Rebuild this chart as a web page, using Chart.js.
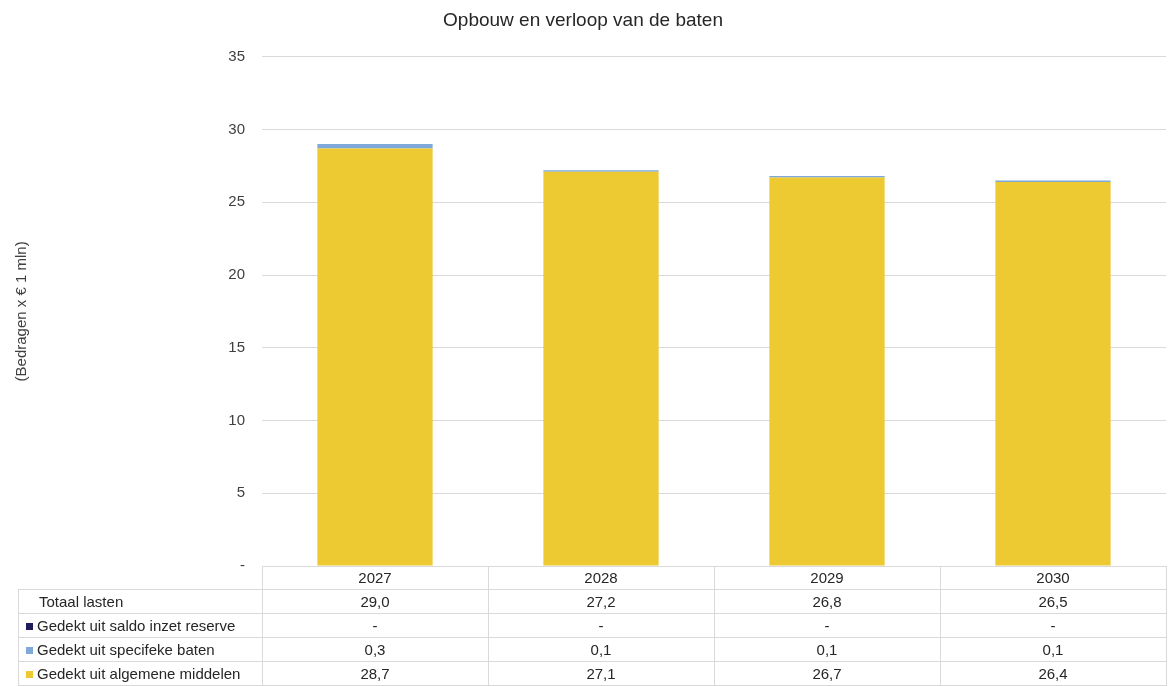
<!DOCTYPE html>
<html>
<head>
<meta charset="utf-8">
<script src="https://cdn.jsdelivr.net/npm/chart.js@4/dist/chart.umd.min.js"></script>
<style>
  body { margin: 0; background: #fff; }
  #wrap { width: 1176px; height: 686px; }
</style>
</head>
<body>
<div id="wrap"><canvas id="baten" width="1176" height="686"></canvas></div>
<script>
const years = ["2027", "2028", "2029", "2030"];
const algemeneMiddelen = [28.7, 27.1, 26.7, 26.4];
const specifiekeBaten = [0.3, 0.1, 0.1, 0.1];
const inzetReserve = [0, 0, 0, 0];
const totaalLasten = [29.0, 27.2, 26.8, 26.5];

const FONT = "'Liberation Sans', Arial, sans-serif";

// "-" for zero, comma as decimal separator
const fmt = v => v === 0 ? "-" : v.toFixed(1).replace(".", ",");

// rows of the data table under the bars (top to bottom)
const tableRows = [
  { label: "Totaal lasten", values: totaalLasten, color: null },
  { label: "Gedekt uit saldo inzet reserve", values: inzetReserve, color: "#1f1c5e" },
  { label: "Gedekt uit specifeke baten", values: specifiekeBaten, color: "#7fa9d8" },
  { label: "Gedekt uit algemene middelen", values: algemeneMiddelen, color: "#edc932" }
];

const dataTable = {
  id: "dataTable",
  afterDraw(chart) {
    const ctx = chart.ctx;
    const x = chart.scales.x;
    const area = chart.chartArea;
    const top = area.bottom;
    const rowH = (chart.height - top) / 5;
    const tableLeft = 18;

    ctx.save();
    ctx.strokeStyle = "#d9d9d9";
    ctx.lineWidth = 1;

    // horizontal rules
    ctx.beginPath();
    ctx.moveTo(area.left, top + 0.5);
    ctx.lineTo(area.right, top + 0.5);
    for (let r = 1; r <= 5; r++) {
      const y = Math.round(top + r * rowH) - 0.5;
      ctx.moveTo(tableLeft, y);
      ctx.lineTo(area.right, y);
    }
    // vertical rules: label column and year columns
    ctx.moveTo(tableLeft + 0.5, top + rowH);
    ctx.lineTo(tableLeft + 0.5, chart.height);
    const colW = (area.right - area.left) / years.length;
    for (let i = 0; i <= years.length; i++) {
      const cx = Math.round(area.left + i * colW) + 0.5;
      ctx.moveTo(cx, top);
      ctx.lineTo(cx, chart.height);
    }
    ctx.stroke();

    ctx.font = "15px " + FONT;
    ctx.fillStyle = "#262626";
    ctx.textBaseline = "middle";

    // year header
    ctx.textAlign = "center";
    years.forEach((yr, i) => {
      ctx.fillText(yr, x.getPixelForValue(i), top + rowH / 2 + 1);
    });

    tableRows.forEach((row, r) => {
      const cy = top + (r + 1.5) * rowH + 1;
      ctx.textAlign = "left";
      if (row.color) {
        ctx.fillStyle = row.color;
        ctx.fillRect(26, cy - 4, 7, 7);
        ctx.fillStyle = "#262626";
        ctx.fillText(row.label, 37, cy);
      } else {
        ctx.fillText(row.label, 39, cy);
      }
      ctx.textAlign = "center";
      row.values.forEach((v, i) => {
        ctx.fillText(fmt(v), x.getPixelForValue(i), cy);
      });
    });
    ctx.restore();
  }
};

new Chart(document.getElementById("baten"), {
  type: "bar",
  data: {
    labels: years,
    datasets: [
      {
        label: "Gedekt uit algemene middelen",
        data: algemeneMiddelen,
        backgroundColor: "#edc932"
      },
      {
        label: "Gedekt uit specifeke baten",
        data: specifiekeBaten,
        backgroundColor: "#7fa9d8"
      },
      {
        label: "Gedekt uit saldo inzet reserve",
        data: inzetReserve,
        backgroundColor: "#1f1c5e"
      }
    ]
  },
  options: {
    responsive: false,
    animation: false,
    layout: { padding: { right: 10 } },
    datasets: {
      bar: { barPercentage: 0.51, categoryPercentage: 1 }
    },
    plugins: {
      legend: { display: false },
      tooltip: { enabled: false },
      title: {
        display: true,
        text: "Opbouw en verloop van de baten",
        color: "#262626",
        font: { family: FONT, size: 19, weight: "normal" },
        padding: { top: 9, bottom: 25 }
      }
    },
    scales: {
      x: {
        stacked: true,
        grid: { display: false },
        border: { display: false },
        ticks: { display: false },
        afterFit(scale) { scale.height = 120; }
      },
      y: {
        stacked: true,
        min: 0,
        max: 35,
        ticks: {
          stepSize: 5,
          padding: 17,
          color: "#404040",
          font: { family: FONT, size: 15 },
          callback: v => v === 0 ? "-" : v
        },
        grid: { color: "#d9d9d9", drawTicks: false },
        border: { display: false },
        title: {
          display: true,
          text: "(Bedragen x € 1 mln)",
          color: "#404040",
          font: { family: FONT, size: 15 },
          padding: { top: 13, bottom: 0 }
        },
        afterFit(scale) { scale.width = 262; }
      }
    }
  },
  plugins: [dataTable]
});
</script>
</body>
</html>
